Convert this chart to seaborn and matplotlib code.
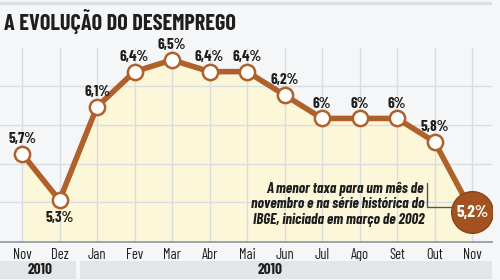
import numpy as np
import pandas as pd
import matplotlib
matplotlib.use('Agg')
import matplotlib.pyplot as plt
import seaborn as sns

# Data
months = ['Nov', 'Dez', 'Jan', 'Fev', 'Mar', 'Abr', 'Mai', 'Jun', 'Jul', 'Ago', 'Set', 'Out', 'Nov']
rates = [5.7, 5.3, 6.1, 6.4, 6.5, 6.4, 6.4, 6.2, 6.0, 6.0, 6.0, 5.8, 5.2]
labels = ['5,7%', '5,3%', '6,1%', '6,4%', '6,5%', '6,4%', '6,4%', '6,2%', '6%', '6%', '6%', '5,8%', '5,2%']
years = ['2010', '2010']
note = 'A menor taxa para um mês de\nnovembro e na série histórica do\nIBGE, iniciada em março de 2002'

df = pd.DataFrame({'idx': range(len(months)), 'rate': rates})

sns.set_style('white')
plt.rcParams['font.family'] = ['Barlow Condensed', 'Roboto', 'DejaVu Sans']

line_c = '#b0602a'
fill_c = '#fdf7da'
bg_c = '#f5f6f7'
grid_c = '#d9dde1'
txt_c = '#1e1e1e'

fig = plt.figure(figsize=(5, 2.8), dpi=100)
fig.patch.set_facecolor(bg_c)

ax = fig.add_axes([0, 38 / 280, 0.984, 194 / 280])
ax.set_facecolor(bg_c)
ax.set_xlim(-0.587, 12.53)
ax.set_ylim(4.944, 6.602)

for i in range(len(months)):
    ax.axvline(i, color=grid_c, lw=1, zorder=1)
for g in [5.285, 5.61, 5.94, 6.28]:
    ax.axhline(g, color=grid_c, lw=1, zorder=1)

ax.fill_between(df['idx'], df['rate'], 4.944, color=fill_c, zorder=0.5)

sns.lineplot(data=df, x='idx', y='rate', ax=ax, color=line_c, lw=4,
             marker='o', markersize=11, markerfacecolor='white',
             markeredgecolor=line_c, markeredgewidth=1.8, zorder=3)

last = len(rates) - 1
ax.scatter([last], [rates[last]], s=900, color='#a3531f', edgecolor='#8a4216', lw=1, zorder=5)
ax.text(last, rates[last], labels[last], color='white', fontsize=12.5, fontweight='bold',
        ha='center', va='center', zorder=6)

for i, (r, lab) in enumerate(zip(rates[:-1], labels[:-1])):
    if i == 1:
        ax.text(i, r - 0.09, lab, ha='center', va='top', fontsize=11, fontweight='bold', color=txt_c, zorder=4)
    else:
        ax.text(i, r + 0.065, lab, ha='center', va='bottom', fontsize=11, fontweight='bold', color=txt_c, zorder=4)

ax.set_xticks(range(len(months)))
ax.set_xticklabels(months, fontsize=10.5, color=txt_c)
ax.tick_params(axis='x', length=0, pad=4)
ax.set_yticks([])
ax.set_xlabel('')
ax.set_ylabel('')
for s in ['top', 'right', 'left']:
    ax.spines[s].set_visible(False)
ax.spines['bottom'].set_color('#8c96a0')
ax.spines['bottom'].set_linewidth(1.2)

ax.text(10.72, 5.46, note, ha='right', va='top', fontsize=10.8, fontweight='bold',
        style='italic', color=txt_c, linespacing=1.15, zorder=4)
ax.plot([10.8, 10.8, 11.55], [5.45, 5.243, 5.243], color='#555555', lw=1, zorder=4)

# Title and top rule
fig.add_artist(plt.Line2D([0, 0.98], [1 - 3 / 280, 1 - 3 / 280], color='#dcdfe2', lw=2.5))
fig.text(4 / 500, 1 - 21 / 280, 'A EVOLUÇÃO DO DESEMPREGO', fontsize=16, fontweight='bold',
         color=txt_c, va='center', ha='left')

# Year bands
fig.add_artist(plt.Rectangle((0, 1 / 280), 76 / 500, 18 / 280, color='#e3e6e9', lw=0))
fig.add_artist(plt.Rectangle((80 / 500, 1 / 280), 412 / 500, 18 / 280, color='#e3e6e9', lw=0))
fig.text(40 / 500, 10 / 280, years[0], fontsize=11, fontweight='bold', ha='center', va='center', color=txt_c)
fig.text(270 / 500, 10 / 280, years[1], fontsize=11, fontweight='bold', ha='center', va='center', color=txt_c)

fig.savefig('out.png', dpi=100, facecolor=bg_c)
